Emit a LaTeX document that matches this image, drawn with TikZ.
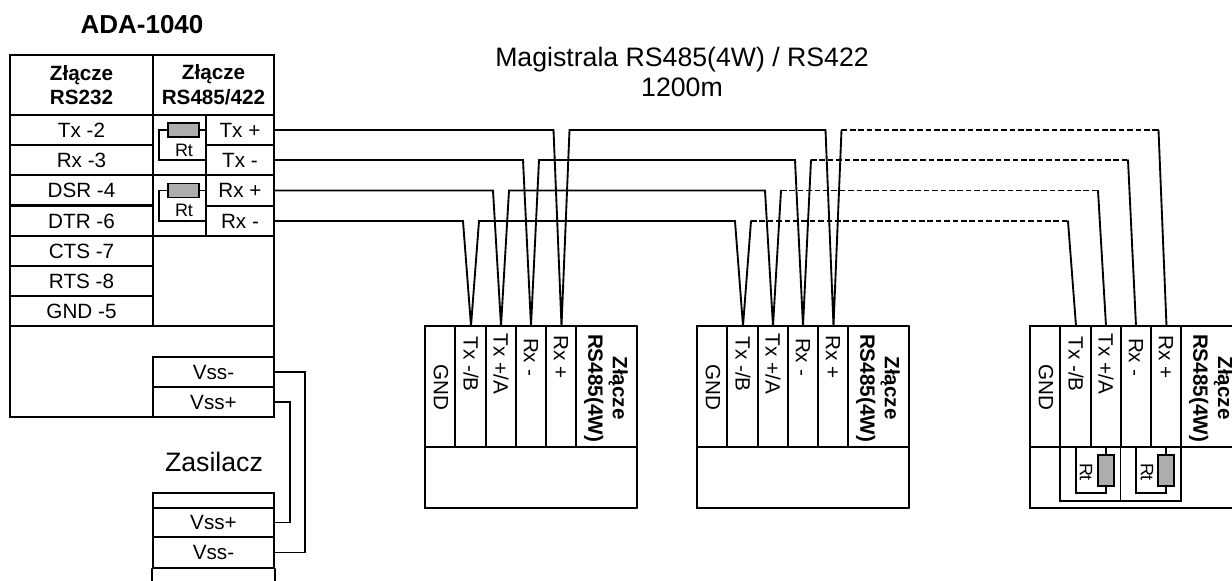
\documentclass[tikz,border=0pt]{standalone}
\usepackage{fontspec}
\setmainfont{Liberation Sans}
\usepackage{tikz}
\def\px{0.75pt}
\tikzset{
    line/.style={line width=1.4pt, line cap=round},
    cell/.style={draw, line width=1.4pt, inner sep=0pt, font=\fontsize{15.5}{18.5}\selectfont, align=center},
    boldcell/.style={cell, font=\fontsize{15.5}{18.5}\selectfont\bfseries},
    pinlabel/.style={inner sep=0pt, rotate=-90, font=\fontsize{15.5}{18.5}\selectfont},
    rtlabel/.style={inner sep=0pt, font=\fontsize{13.5}{16}\selectfont},
    resistor/.style={draw, line width=1.4pt, fill=black!32, inner sep=0pt},
    title/.style={inner sep=0pt, align=center, font=\fontsize{20}{22}\selectfont}
}
\begin{document}
\begin{tikzpicture}[x=0.75pt, y=-0.75pt]
    \useasboundingbox (0,0) rectangle (1232,581);
    \node[title, font=\fontsize{19.5}{22}\selectfont\bfseries] (ada) at (142,25) {ADA-1040};
    \node[title] (bus) at (682,72) {Magistrala RS485(4W) / RS422\\1200m};
    \node[title] (psu) at (214,462) {Zasilacz};

    \draw[line] (10,55) rectangle (274,417);
    \draw[line] (10,326) -- (274,326);
    \draw[line] (153,236) rectangle (274,326);
    \node[boldcell, minimum width=143*\px, minimum height=60*\px] (hdra) at (81.5,85) {Złącze\\RS232};
    \node[boldcell, minimum width=121*\px, minimum height=60*\px] (hdrb) at (213.5,85) {Złącze\\RS485/422};
    \foreach \name/\txt/\y in {tx/Tx -2/130, rx/Rx -3/160, dsr/DSR -4/190, dtr/DTR -6/221, cts/CTS -7/251, rts/RTS -8/281, gnd/GND -5/311}
        \node[cell, minimum width=143*\px, minimum height=30.4*\px] (\name) at (81.5,\y) {\txt};

    \draw[line] (153,115) rectangle (206,175);
    \draw[line] (153,175) rectangle (206,236);
    \node[cell, minimum width=68*\px, minimum height=30*\px] (txp) at (240,130) {Tx +};
    \node[cell, minimum width=68*\px, minimum height=30*\px] (txm) at (240,160) {Tx -};
    \node[cell, minimum width=68*\px, minimum height=31*\px] (rxp) at (240,190.5) {Rx +};
    \node[cell, minimum width=68*\px, minimum height=30*\px] (rxm) at (240,221) {Rx -};

    \node[resistor, minimum width=31*\px, minimum height=14*\px] (rta) at (183.5,130) {};
    \node[resistor, minimum width=31*\px, minimum height=14*\px] (rtb) at (183.5,190.5) {};
    \node[rtlabel] (rtatxt) at (184,150) {Rt};
    \node[rtlabel] (rtbtxt) at (184,210) {Rt};
    \draw[line] (rta.east) -- (txp.west);
    \draw[line] (rta.west) -- ++(-8,0) |- (txm.west);
    \draw[line] (rtb.east) -- (rxp.west);
    \draw[line] (rtb.west) -- ++(-8,0) |- (rxm.west);

    \node[cell, minimum width=121*\px, minimum height=30*\px] (vssa) at (213.5,372) {Vss-};
    \node[cell, minimum width=121*\px, minimum height=30*\px] (vssb) at (213.5,402) {Vss+};
    \node[cell, minimum width=121*\px, minimum height=15*\px] (psutop) at (213.5,500.5) {};
    \node[cell, minimum width=121*\px, minimum height=29.5*\px] (vssc) at (213.5,522.5) {Vss+};
    \node[cell, minimum width=121*\px, minimum height=31*\px] (vssd) at (213.5,552.5) {Vss-};
    \draw[line] (vssd.south west) -- ++(0,13);
    \draw[line] (vssd.south east) -- ++(0,13);
    \draw[line] (vssa.east) -- ++(30,0) |- (vssd.east);
    \draw[line] (vssb.east) -- ++(15,0) |- (vssc.east);

    \foreach \conn/\dx/\xr in {a/0/637, b/272/909, c/605/1232} {
        \draw[line] (\xr,326) -- (425+\dx,326) -- (425+\dx,508) -- (\xr,508);
        \draw[line] (425+\dx,447) -- (\xr,447);
        \ifnum\dx<600 \draw[line] (\xr,326) -- (\xr,508); \fi
        \foreach \x in {455,486,516,546,576}
            \draw[line] (\x+\dx,326) -- (\x+\dx,447);
        \coordinate (\conn1) at (471+\dx,326);
        \coordinate (\conn2) at (501+\dx,326);
        \coordinate (\conn3) at (531+\dx,326);
        \coordinate (\conn4) at (561.5+\dx,326);
        \node[pinlabel] (\conn gnd) at (441+\dx,387) {GND};
        \node[pinlabel] (\conn txb) at (471+\dx,364) {Tx -/B};
        \node[pinlabel] (\conn txa) at (501+\dx,364) {Tx +/A};
        \node[pinlabel] (\conn rxm) at (531+\dx,357) {Rx -};
        \node[pinlabel] (\conn rxp) at (561+\dx,357) {Rx +};
        \node[pinlabel, align=center, font=\fontsize{15.5}{18.5}\selectfont\bfseries] (\conn hdr) at (606+\dx,388) {Złącze\\RS485(4W)};
    }

    \foreach \src/\pin in {rxm/1, rxp/2, txm/3, txp/4} {
        \draw[line] (\src.east) -- ([xshift=-6pt]a\pin |- \src.east) -- (a\pin) -- ([xshift=6pt]a\pin |- \src.east) -- ([xshift=-6pt]b\pin |- \src.east) -- (b\pin) -- ([xshift=6pt]b\pin |- \src.east);
        \draw[line width=1.4pt, dash pattern=on 4.2pt off 2.1pt] ([xshift=6pt]b\pin |- \src.east) -- ([xshift=-6pt]c\pin |- \src.east);
        \draw[line] ([xshift=-6pt]c\pin |- \src.east) -- (c\pin);
    }

    \draw[line] (1060,447) -- (1060,501) -- (1181,501) -- (1181,447);
    \draw[line] (1120.5,447) -- (1120.5,501);
    \node[resistor, minimum width=16*\px, minimum height=31*\px] (rtc) at (1106,470.5) {};
    \node[resistor, minimum width=16*\px, minimum height=31*\px] (rtd) at (1166,470.5) {};
    \node[rtlabel, rotate=-90] (rtctxt) at (1086,472) {Rt};
    \node[rtlabel, rotate=-90] (rtdtxt) at (1147,472) {Rt};
    \draw[line] (rtc.north) -- (1106,447);
    \draw[line] (rtc.south) -- (1106,493) -| (1076,447);
    \draw[line] (rtd.north) -- (1166,447);
    \draw[line] (rtd.south) -- (1166,493) -| (1136,447);
\end{tikzpicture}
\end{document}
